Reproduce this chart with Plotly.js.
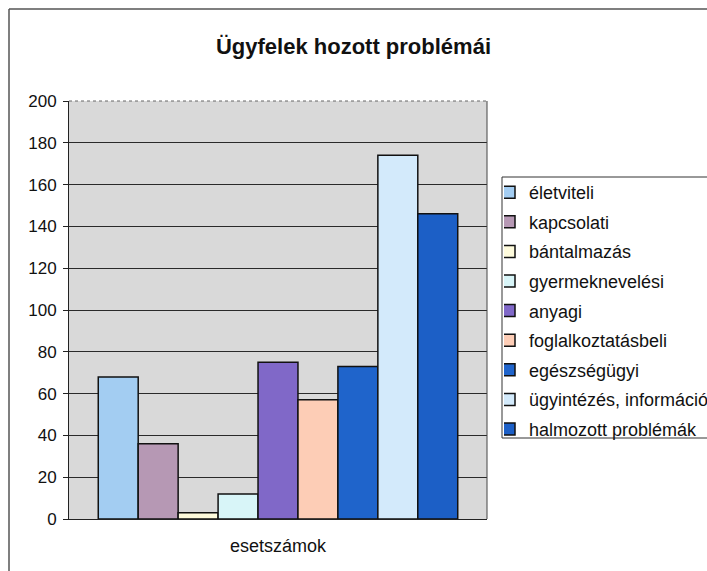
<!DOCTYPE html>
<html>
<head>
<meta charset="utf-8">
<script src="https://cdn.plot.ly/plotly-3.0.1.min.js"></script>
<style>html,body{margin:0;padding:0;background:#fff;}#chart{width:707px;height:571px;}</style>
</head>
<body>
<div id="chart"></div>
<script>
const categories = ["esetszámok"];
const seriesNames = ["életviteli", "kapcsolati", "bántalmazás", "gyermeknevelési", "anyagi", "foglalkoztatásbeli", "egészségügyi", "ügyintézés, információ", "halmozott problémák"];
const seriesValues = [68, 36, 3, 12, 75, 57, 73, 174, 146];
const seriesColors = ["#a3cdf2", "#b698b4", "#fefbdc", "#d8f5f8", "#8068c8", "#fdcdb6", "#1f64cb", "#d3eafb", "#1c5fc6"];
const yTicks = [0, 20, 40, 60, 80, 100, 120, 140, 160, 180, 200];

const FONT = "Liberation Sans, Arial, sans-serif";
const traces = seriesNames.map((name, i) => ({
  type: "bar",
  name: name,
  legendgroup: "g" + i,
  x: categories,
  y: [seriesValues[i]],
  marker: {color: seriesColors[i], line: {color: "#111", width: 1.5}},
  hoverinfo: "name+y"
}));

const L = 69, R = 487, T = 101, B = 519, W = 707, H = 571;
const pw = R - L, ph = B - T;
const px = v => (v - L) / pw;
const py = v => (B - v) / ph;

const layout = {
  width: W, height: H,
  margin: {l: L, r: W - R, t: T, b: H - B, pad: 0, autoexpand: false},
  paper_bgcolor: "#ffffff",
  plot_bgcolor: "#d9d9d9",
  font: {family: FONT, size: 17, color: "#111"},
  title: {text: "<b>Ügyfelek hozott problémái</b>", x: 0.5, xref: "container", xanchor: "center", y: 1 - 46 / H, yref: "container", yanchor: "middle", font: {family: FONT, size: 22, color: "#111"}},
  barmode: "group",
  bargap: 0.14,
  bargroupgap: 0,
  xaxis: {
    type: "category",
    showgrid: false,
    showline: true, linecolor: "#222", linewidth: 1, mirror: false,
    ticks: "", ticklabelstandoff: 10,
    tickfont: {family: FONT, size: 18, color: "#111"},
    fixedrange: true
  },
  yaxis: {
    range: [0, 200],
    tickvals: yTicks,
    ticktext: yTicks.map(String),
    showgrid: true, gridcolor: "#2a2a2a", gridwidth: 1,
    showline: true, linecolor: "#222", linewidth: 1,
    ticks: "outside", ticklen: 5, tickcolor: "#222",
    ticklabelstandoff: 3,
    tickfont: {family: FONT, size: 17, color: "#111"},
    zeroline: false,
    fixedrange: true
  },
  showlegend: true,
  legend: {
    x: px(504), y: py(174), xanchor: "left", yanchor: "top",
    bgcolor: "rgba(0,0,0,0)", borderwidth: 0,
    font: {family: FONT, size: 18, color: "#111"},
    tracegroupgap: 3.2, itemwidth: 30, indentation: -15,
    traceorder: "grouped"
  },
  shapes: [
    {type: "line", xref: "paper", yref: "paper", x0: px(9), x1: px(720), y0: py(9), y1: py(9), line: {color: "#555", width: 1.5}},
    {type: "line", xref: "paper", yref: "paper", x0: px(9), x1: px(9), y0: py(9), y1: py(580), line: {color: "#555", width: 1.5}},
    {type: "line", xref: "paper", yref: "paper", x0: 1, x1: 1, y0: 0, y1: 1, line: {color: "#444", width: 1}},
    {type: "line", xref: "paper", yref: "paper", x0: 0, x1: 1, y0: 1, y1: 1, line: {color: "#666", width: 1, dash: "dot"}},
    {type: "rect", xref: "paper", yref: "paper", x0: px(502), x1: px(725), y0: py(177), y1: py(438), fillcolor: "#ffffff", line: {color: "#333", width: 1}}
  ]
};

Plotly.newPlot("chart", traces, layout, {displayModeBar: false});
</script>
</body>
</html>
